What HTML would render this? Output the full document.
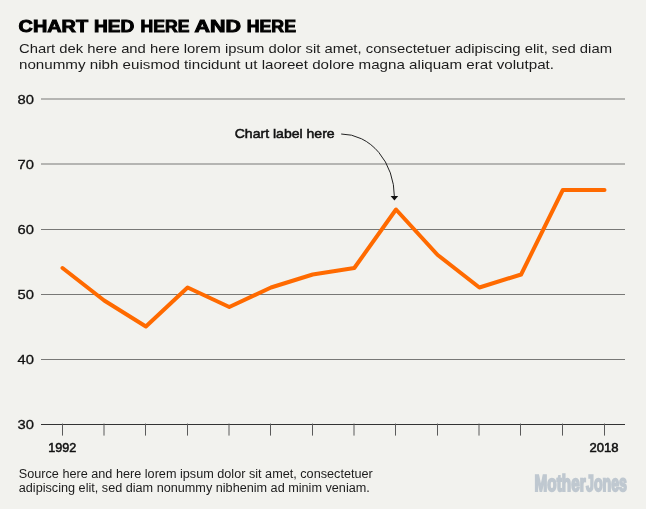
<!DOCTYPE html>
<html lang="en">
<head>
<meta charset="utf-8">
<title>Chart</title>
<style>
html,body{margin:0;padding:0;background:#f2f2ee;}
body{width:646px;height:509px;overflow:hidden;}
svg{display:block;}
text{font-family:"Liberation Sans",sans-serif;fill:#111;}
.hed{font-weight:bold;font-size:16.8px;fill:#000;stroke:#000;stroke-width:0.95px;paint-order:stroke;}
.dek{font-size:13.6px;fill:#1c1c1c;}
.ax{font-size:12.8px;fill:#111;stroke:#111;stroke-width:0.3px;}
.axb{font-size:12.1px;fill:#111;stroke:#111;stroke-width:0.5px;}
.lab{font-size:12.8px;fill:#111;stroke:#111;stroke-width:0.5px;}
.src{font-size:12.3px;fill:#1c1c1c;}
.logo{text-rendering:geometricPrecision;font-weight:bold;font-size:23.1px;fill:#bfc8d0;stroke:#bfc8d0;stroke-width:1.9px;}
</style>
</head>
<body>
<svg width="646" height="509" viewBox="0 0 646 509">
<rect width="646" height="509" fill="#f2f2ee"/>
<text class="hed" x="18.63" y="31.5" textLength="69.43" lengthAdjust="spacingAndGlyphs">CHART</text>
<text class="hed" x="94.06" y="31.5" textLength="40.30" lengthAdjust="spacingAndGlyphs">HED</text>
<text class="hed" x="140.64" y="31.5" textLength="48.83" lengthAdjust="spacingAndGlyphs">HERE</text>
<text class="hed" x="194.49" y="31.5" textLength="46.48" lengthAdjust="spacingAndGlyphs">AND</text>
<text class="hed" x="246.78" y="31.5" textLength="49.19" lengthAdjust="spacingAndGlyphs">HERE</text>
<text class="dek" x="19" y="52.6" textLength="593" lengthAdjust="spacingAndGlyphs">Chart dek here and here lorem ipsum dolor sit amet, consectetuer adipiscing elit, sed diam</text>
<text class="dek" x="19" y="69.4" textLength="535" lengthAdjust="spacingAndGlyphs">nonummy nibh euismod tincidunt ut laoreet dolore magna aliquam erat volutpat.</text>

<g stroke="#787876" stroke-width="1" fill="none">
<line x1="41" x2="625" y1="99" y2="99"/>
<line x1="41" x2="625" y1="164" y2="164"/>
<line x1="41" x2="625" y1="229.5" y2="229.5"/>
<line x1="41" x2="625" y1="294.5" y2="294.5"/>
<line x1="41" x2="625" y1="359.5" y2="359.5"/>
</g>
<g stroke="#333" stroke-width="1.1" fill="none">
<line x1="41" x2="625" y1="424.5" y2="424.5"/>
</g>
<g stroke="#5a5a5a" stroke-width="1" fill="none" id="ticks">
<line x1="62.5" x2="62.5" y1="423.6" y2="435.6"/>
<line x1="104.0" x2="104.0" y1="423.6" y2="435.6"/>
<line x1="145.5" x2="145.5" y1="423.6" y2="435.6"/>
<line x1="187.5" x2="187.5" y1="423.6" y2="435.6"/>
<line x1="229.0" x2="229.0" y1="423.6" y2="435.6"/>
<line x1="270.5" x2="270.5" y1="423.6" y2="435.6"/>
<line x1="312.5" x2="312.5" y1="423.6" y2="435.6"/>
<line x1="354.0" x2="354.0" y1="423.6" y2="435.6"/>
<line x1="395.5" x2="395.5" y1="423.6" y2="435.6"/>
<line x1="437.5" x2="437.5" y1="423.6" y2="435.6"/>
<line x1="479.0" x2="479.0" y1="423.6" y2="435.6"/>
<line x1="520.5" x2="520.5" y1="423.6" y2="435.6"/>
<line x1="562.5" x2="562.5" y1="423.6" y2="435.6"/>
<line x1="604.5" x2="604.5" y1="423.6" y2="435.6"/>
</g>
<g class="ax">
<text x="17.6" y="103.8" textLength="16.4" lengthAdjust="spacingAndGlyphs">80</text>
<text x="17.6" y="168.8" textLength="16.4" lengthAdjust="spacingAndGlyphs">70</text>
<text x="17.6" y="233.8" textLength="16.4" lengthAdjust="spacingAndGlyphs">60</text>
<text x="17.6" y="298.8" textLength="16.4" lengthAdjust="spacingAndGlyphs">50</text>
<text x="17.6" y="363.8" textLength="16.4" lengthAdjust="spacingAndGlyphs">40</text>
<text x="17.6" y="428.8" textLength="16.4" lengthAdjust="spacingAndGlyphs">30</text>
</g>
<text class="axb" x="48.2" y="451.8" textLength="28" lengthAdjust="spacingAndGlyphs">1992</text>
<text class="axb" x="589.6" y="451.8" textLength="29" lengthAdjust="spacingAndGlyphs">2018</text>

<polyline id="series" fill="none" stroke="#ff6a00" stroke-width="4" stroke-linecap="round" stroke-linejoin="round" points="62.5,268.0 104.2,300.5 145.9,326.5 187.6,287.5 229.3,307.0 271.0,287.5 312.7,274.5 354.3,268.0 396.0,209.5 437.7,255.0 479.4,287.5 521.1,274.5 562.8,190.0 604.5,190.0"/>

<text class="lab" x="234.7" y="137.7" textLength="100" lengthAdjust="spacingAndGlyphs">Chart label here</text>
<path d="M341.2,134 A53.2,63 0 0 1 394.4,197" fill="none" stroke="#222" stroke-width="1"/>
<path d="M390.6,196 L398.2,196 L394.4,200.4 Z" fill="#111"/>

<text class="src" x="18.8" y="477.8" textLength="354" lengthAdjust="spacingAndGlyphs">Source here and here lorem ipsum dolor sit amet, consectetuer</text>
<text class="src" x="18.8" y="491.5" textLength="351" lengthAdjust="spacingAndGlyphs">adipiscing elit, sed diam nonummy nibhenim ad minim veniam.</text>

<text class="logo" x="534.6" y="490.8" textLength="51" lengthAdjust="spacingAndGlyphs">Mother</text>
<text class="logo" x="586" y="490.8" textLength="41" lengthAdjust="spacingAndGlyphs">Jones</text>
</svg>
</body>
</html>
